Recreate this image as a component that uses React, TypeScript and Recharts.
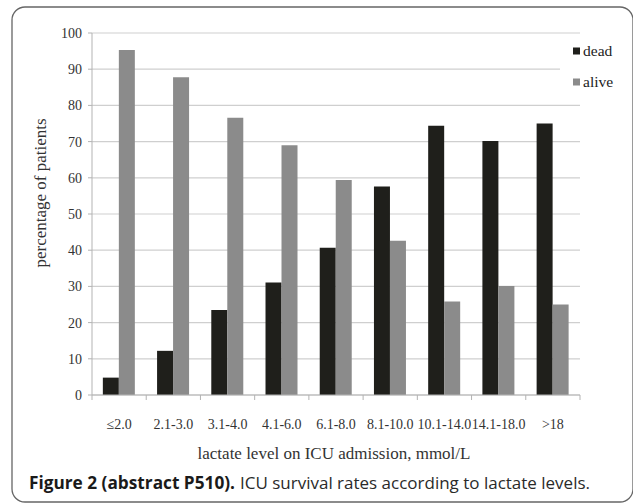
import React from 'react';
import { BarChart, Bar, XAxis, YAxis, CartesianGrid } from 'recharts';

// ---- data ----
const categories = ['≤2.0', '2.1-3.0', '3.1-4.0', '4.1-6.0', '6.1-8.0', '8.1-10.0', '10.1-14.0', '14.1-18.0', '>18'];
const deadValues = [4.8, 12.2, 23.5, 31.1, 40.7, 57.6, 74.4, 70.2, 75.0];
const aliveValues = [95.3, 87.8, 76.6, 69.0, 59.4, 42.6, 25.8, 30.1, 25.0];
const yTicks = [0, 10, 20, 30, 40, 50, 60, 70, 80, 90, 100];
const seriesNames = ['dead', 'alive'];
const yLabel = 'percentage of patients';
const xLabel = 'lactate level on ICU admission, mmol/L';
const captionBold = 'Figure 2 (abstract P510).';
const captionRest = 'ICU survival rates according to lactate levels.';

const data = categories.map((c, i) => ({ category: c, dead: deadValues[i], alive: aliveValues[i] }));

// ---- layout / style ----
const W = 633;
const H = 504;
const PLOT_LEFT = 92;
const PLOT_RIGHT = 580;
const PLOT_TOP = 33;
const PLOT_BOTTOM = 395;
const BAND = (PLOT_RIGHT - PLOT_LEFT) / categories.length;
const SERIF = '"Liberation Serif", "Times New Roman", serif';
const SANS = '"Open Sans", "Noto Sans", sans-serif';
const AXIS = '#b3b3b3';
const GRID = '#cfcfcf';
const TEXT = '#333333';
const COLORS = ['#1f1f1b', '#8b8b8b'];

const XTick = (props: any) => {
  const { x, y, payload } = props;
  const idx = categories.indexOf(payload.value);
  const half = BAND / 2;
  return (
    <g>
      <line x1={x - half} x2={x - half} y1={y} y2={y + 5} stroke={AXIS} strokeWidth={1} />
      {idx === categories.length - 1 && (
        <line x1={x + half} x2={x + half} y1={y} y2={y + 5} stroke={AXIS} strokeWidth={1} />
      )}
      <text x={x} y={y + 34} textAnchor="middle" fontFamily={SERIF} fontSize={14} fill={TEXT}>
        {payload.value}
      </text>
    </g>
  );
};

export default function App() {
  return (
    <div style={{ position: 'absolute', left: 0, top: 0, width: W, height: H, background: '#fff', overflow: 'hidden' }}>
      <BarChart
        width={W}
        height={H}
        data={data}
        margin={{ top: PLOT_TOP, right: W - PLOT_RIGHT, left: 40, bottom: H - PLOT_BOTTOM - 40 }}
        barCategoryGap="20%"
        barGap={0}
      >
        <CartesianGrid vertical={false} stroke={GRID} strokeWidth={1.2} />
        <XAxis
          dataKey="category"
          interval={0}
          height={40}
          axisLine={{ stroke: AXIS }}
          tickLine={false}
          tickSize={0}
          tickMargin={0}
          tick={<XTick />}
        />
        <YAxis
          width={52}
          domain={[0, 100]}
          ticks={yTicks}
          interval={0}
          axisLine={{ stroke: AXIS }}
          tickLine={{ stroke: AXIS }}
          tickSize={4}
          tickMargin={6}
          tick={{ fontFamily: SERIF, fontSize: 14, fill: TEXT }}
        />
        <Bar dataKey="dead" name={seriesNames[0]} fill={COLORS[0]} isAnimationActive={false} />
        <Bar dataKey="alive" name={seriesNames[1]} fill={COLORS[1]} isAnimationActive={false} />
      </BarChart>
      <svg
        width={W}
        height={H}
        style={{ position: 'absolute', left: 0, top: 0, pointerEvents: 'none' }}
      >
        <rect x={12} y={7} width={621} height={495} rx={13} ry={13} fill="none" stroke="#666" strokeWidth={1.3} />
        {/* legend */}
        <rect x={560} y={36} width={62} height={62} fill="#fff" />
        {seriesNames.map((name, i) => (
          <g key={name}>
            <rect x={573} y={47.5 + i * 31} width={7} height={7} fill={COLORS[i]} />
            <text x={583} y={56 + i * 31} fontFamily={SERIF} fontSize={15.5} fill="#222">
              {name}
            </text>
          </g>
        ))}
        <text
          x={40}
          y={193}
          transform="rotate(-90 40 193)"
          textAnchor="middle"
          dominantBaseline="central"
          fontFamily={SERIF}
          fontSize={17}
          fill={TEXT}
        >
          {yLabel}
        </text>
        <text x={334} y={458.5} textAnchor="middle" fontFamily={SERIF} fontSize={17} fill={TEXT}>
          {xLabel}
        </text>
        <text
          x={29}
          y={489}
          fontFamily={SANS}
          fontWeight="bold"
          fontSize={17}
          fill="#1a1a1a"
          textLength={206}
          lengthAdjust="spacingAndGlyphs"
        >
          {captionBold}
        </text>
        <text
          x={240}
          y={489}
          fontFamily={SANS}
          fontSize={17}
          fill="#2a2a2a"
          textLength={350}
          lengthAdjust="spacingAndGlyphs"
        >
          {captionRest}
        </text>
      </svg>
    </div>
  );
}
